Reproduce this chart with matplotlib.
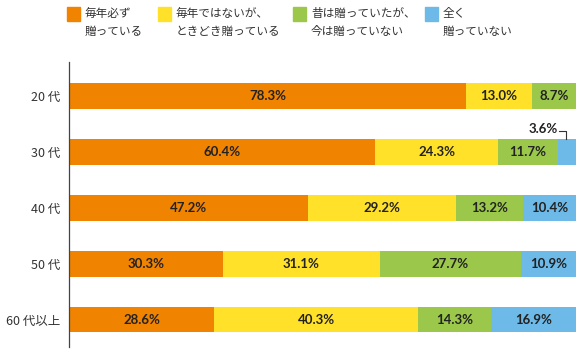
import numpy as np
import matplotlib.pyplot as plt
from matplotlib.patches import Rectangle

plt.rcParams['font.family'] = ['Noto Sans CJK JP', 'DejaVu Sans']

ages = ['20 代', '30 代', '40 代', '50 代', '60 代以上']
every_year = [78.3, 60.4, 47.2, 30.3, 28.6]
sometimes = [13.0, 24.3, 29.2, 31.1, 40.3]
used_to = [8.7, 11.7, 13.2, 27.7, 14.3]
never = [0.0, 3.6, 10.4, 10.9, 16.9]

series_names = ['毎年必ず\n贈っている', '毎年ではないが、\nときどき贈っている',
                '昔は贈っていたが、\n今は贈っていない', '全く\n贈っていない']
colors = ['#F08300', '#FFE12A', '#9BC84A', '#6DB9E7']

fig = plt.figure(figsize=(5.8, 3.52), dpi=100)
ax = fig.add_axes([69 / 580, 5 / 352, 507 / 580, 285 / 352])

label_font = dict(fontsize=9.5, fontweight='bold', color='#222222',
                  family=['Lato', 'DejaVu Sans'])

y = np.arange(len(ages))
left = np.zeros(len(ages))
for vals, c in zip([every_year, sometimes, used_to, never], colors):
    vals = np.array(vals)
    bars = ax.barh(y, vals, left=left, height=0.46, color=c, edgecolor='none')
    labels = ['' if v < 5 else f'{v:.1f}%' for v in vals]
    ax.bar_label(bars, labels=labels, label_type='center', **label_font)
    left += vals

# small segment label with bracket
ax.text(96.4, 0.6, '3.6%', ha='right', va='center', **label_font)
ax.plot([96.6, 98.0, 98.0], [0.62, 0.62, 0.77], color='#333333', lw=0.8)

ax.set_xlim(0, 100)
ax.set_ylim(4.49, -0.607)
ax.set_yticks(y)
ax.set_yticklabels(ages, fontsize=9, color='#333333')
ax.tick_params(axis='y', length=0, pad=6)
ax.set_xticks([])
for s in ['top', 'right', 'bottom']:
    ax.spines[s].set_visible(False)
ax.spines['left'].set_color('#444444')
ax.spines['left'].set_linewidth(0.9)

# legend
leg_x = [67, 158, 293, 425]
for lx, name, c in zip(leg_x, series_names, colors):
    fig.patches.append(Rectangle((lx / 580, 1 - 21 / 352), 13 / 580, 14 / 352,
                                 transform=fig.transFigure, color=c))
    fig.text((lx + 18) / 580, 1 - 7 / 352, name, ha='left', va='top',
             fontsize=8.4, color='#333333', linespacing=1.55)

fig.savefig('out.png', dpi=100)
